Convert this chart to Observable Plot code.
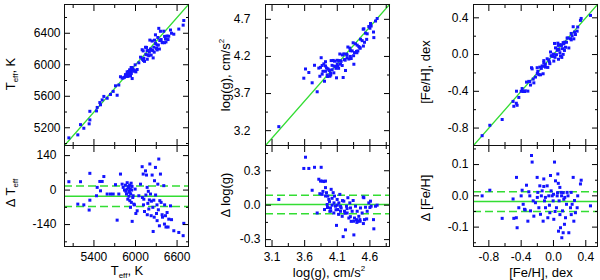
<!DOCTYPE html>
<html><head><meta charset="utf-8">
<script src="https://cdn.jsdelivr.net/npm/d3@7"></script>
<script src="https://cdn.jsdelivr.net/npm/@observablehq/plot@0.6"></script>
<style>
body{margin:0;background:#fff;}
#chart{position:relative;width:600px;height:280px;font-family:"Liberation Sans",Arial,Helvetica,sans-serif;overflow:hidden;background:#fff;}
#chart svg{position:absolute;overflow:visible;}
.lab{position:absolute;font-size:13px;white-space:nowrap;color:#000;line-height:1;}
.lab sub{font-size:8px;vertical-align:-3px;}
.rot{transform:translate(-50%,-50%) rotate(-90deg);}
.hor{transform:translate(-50%,-50%);}
</style></head><body><div id="chart"></div>
<script>
// ---------- data ----------
const teffX = [5038,5206,5167,5254,5341,5331,5341,5447,5437,5485,5519,5543,5495,5591,5639,5678,5711,5735,5759,5783,5807,5822,5841,5855,5870,5880,5889,5899,5908,5918,5928,5937,5952,5966,5976,5995,6024,6048,6072,6096,6111,6120,6130,6144,6159,6168,6178,6192,6207,6216,6226,6240,6255,6264,6274,6288,6303,6312,6322,6336,6351,6360,6384,6408,6418,6433,6456,6480,6505,6553,6625,6688,6697,
  5900,5910,5915,5925,5930,5945,5950,5960,5905,5880,5860,5940,5985,6005,6100,6115,6150,6170,6185,6200,6230,6250,6270,6290,6310,6330,6345,6370,6390,6420,6440,6470,6520];
const teffDelta = [34,34,-57,-60,68,-81,-41,11,-23,35,35,55,-3,-16,-16,-16,22,-122,-16,65,24,11,0,20,-16,4,-37,14,-9,-43,-70,28,-127,-23,-57,4,-84,-23,24,95,65,-37,-87,78,61,11,-54,-77,106,-16,-104,61,-168,-41,38,92,-95,-124,24,126,-43,65,-100,18,-138,-104,-91,-118,-64,-165,-172,-185,-135,
  10,-5,20,5,-15,0,15,-30,-25,30,-5,-50,-60,-95,-30,-60,-20,-100,-5,-40,-45,-70,-110,-20,-60,-80,-145,-50,-110,-60,-150,-150,-120];
const teffStats = {mean:-25, lo:17, hi:-67};

const loggX = [3.204,3.613,3.587,3.664,3.751,3.853,3.715,3.792,3.817,3.843,3.868,3.894,3.919,3.833,3.868,3.904,3.919,3.935,3.945,3.955,3.97,3.986,3.996,4.006,4.021,4.037,4.047,4.057,4.073,4.088,4.098,4.108,4.124,4.139,4.149,4.159,4.175,4.19,4.2,4.211,4.226,4.241,4.251,4.262,4.277,4.292,4.302,4.313,4.328,4.343,4.354,4.364,4.379,4.394,4.405,4.415,4.43,4.446,4.456,4.481,4.497,4.507,4.517,4.532,4.558,4.583,4.609,4.619,4.655,4.66,4.686,4.711,
  3.95,3.98,4.0,4.02,4.05,4.08,4.1,4.12,4.15,4.18,4.22,4.25,4.3,4.35,4.4,4.45,4.5,4.55,4.6,3.88,3.92];
const loggDelta = [0.05,0.418,0.32,0.32,0.33,0.33,0.13,-0.068,0.226,0.21,0.21,0.206,0.21,0.10,0.094,-0.038,0.153,0.109,0.006,0.079,0.05,-0.053,-0.024,0.138,0,0.109,-0.068,0.079,-0.009,-0.176,0.05,-0.038,0.02,0.094,-0.053,-0.024,-0.097,-0.274,0.035,-0.053,-0.215,-0.009,-0.068,0.065,-0.112,0.02,-0.024,-0.141,-0.053,0.041,-0.259,-0.112,-0.009,-0.126,-0.053,-0.141,-0.097,-0.126,-0.024,-0.068,0.071,0.065,-0.126,-0.018,-0.053,0.02,0.035,-0.009,-0.126,-0.206,-0.009,0,
  -0.02,0.03,-0.05,0.06,0.02,-0.04,0.0,-0.08,-0.01,0.04,-0.07,-0.03,-0.1,-0.14,-0.15,-0.14,-0.16,-0.12,-0.02,0.12,0.08];
const loggStats = {mean:0.005, lo:0.087, hi:-0.075};

const fehX = [-0.883,-0.788,-0.635,-0.491,-0.458,-0.45,-0.429,-0.40,-0.388,-0.375,-0.359,-0.334,-0.317,-0.305,-0.293,-0.284,-0.272,-0.264,-0.251,-0.243,-0.223,-0.202,-0.194,-0.181,-0.169,-0.161,-0.14,-0.128,-0.12,-0.111,-0.099,-0.078,-0.07,-0.058,-0.045,-0.037,-0.029,-0.016,-0.004,0.004,0.013,0.025,0.037,0.046,0.054,0.062,0.07,0.079,0.087,0.095,0.103,0.112,0.12,0.128,0.136,0.149,0.161,0.169,0.19,0.211,0.219,0.231,0.244,0.252,0.272,0.293,0.334,0.343,0.458,
  -0.1,-0.05,0.0,0.02,0.05,0.08,0.1,0.14,0.18,0.22,0.26,0.3,-0.2,-0.15,-0.35,-0.46,-0.5,-0.12,0.06,0.12];
const fehDelta = [0,0.018,-0.072,-0.072,0.059,-0.102,-0.038,0,0.018,-0.027,-0.043,0.034,-0.081,0.013,0,-0.048,0.129,0.108,-0.016,-0.065,-0.022,0.059,0.011,-0.038,0.032,-0.059,0.016,-0.081,0.054,-0.016,-0.038,0.032,-0.07,0,-0.054,0.065,0.016,0,-0.016,-0.075,0.108,0.048,-0.038,0,0.07,-0.113,-0.016,0.027,-0.102,0.011,-0.134,-0.048,-0.118,-0.011,-0.091,-0.07,-0.027,0.011,-0.118,-0.038,0.011,-0.027,0.059,-0.081,-0.054,-0.038,0.038,0.05,-0.032,
  -0.005,-0.03,0.005,-0.05,0.01,-0.06,0.0,-0.005,0.0,-0.06,-0.015,0.0,-0.005,0.0,-0.045,-0.07,-0.01,0.03,0.04,0.01];
const fehStats = {mean:-0.018, lo:0.013, hi:-0.05};

// axis ranges and ticks
const teffRange = [4975, 6765], teffDRange = [-229, 181];
const teffXMajor = [5400,6000,6600], teffXMinor = [5100,5700,6300];
const teffYMajor = [5200,5600,6000,6400], teffYMinor = [5000,5400,5800,6200,6600];
const teffDMajor = [-140,0,140], teffDMinor = [-210,-70,70];

const loggRange = [3.0, 4.9], loggDRange = [-0.36, 0.52];
const loggXMajor = [3.1,3.6,4.1,4.6], loggXMinor = [3.35,3.85,4.35,4.85];
const loggYMajor = [3.2,3.7,4.2,4.7], loggYMinor = [3.45,3.95,4.45];
const loggDMajor = [-0.3,0,0.3], loggDMinor = [-0.15,0.15,0.45];

const fehRange = [-0.99, 0.545], fehDRange = [-0.162, 0.161];
const fehXMajor = [-0.8,-0.4,0,0.4], fehXMinor = [-0.6,-0.2,0.2];
const fehYMajor = [-0.8,-0.4,0,0.4], fehYMinor = [-0.6,-0.2,0.2];
const fehDMajor = [-0.1,0,0.1], fehDMinor = [-0.15,-0.05,0.05,0.15];

// ---------- drawing ----------
const FONT = '"Liberation Sans", Arial, Helvetica, sans-serif';
const BLUE = "#1414ff", GREEN = "#33dd33";
const chart = document.getElementById("chart");
const fmtInt = d => String(d);
const fmt1 = d => d.toFixed(1);

function panel(o) {
  const pw = 124, ph = o.ph;
  const mL = 60, mR = 4, mT = o.mT, mB = o.mB;
  const marks = [
    ...o.lines,
    Plot.dot(o.data, {x: "x", y: "y", symbol: "square", r: 1.7, fill: BLUE, stroke: null}),
    Plot.axisX(o.xMajor, {anchor: "bottom", tickSize: -6, tickFormat: () => "", label: null}),
    Plot.axisX(o.xMinor, {anchor: "bottom", tickSize: -3, tickFormat: () => "", label: null}),
    Plot.axisX(o.xMajor, {anchor: "top", tickSize: -6, tickFormat: () => "", label: null}),
    Plot.axisX(o.xMinor, {anchor: "top", tickSize: -3, tickFormat: () => "", label: null}),
    Plot.axisY(o.yMajor, {anchor: "left", tickSize: -6, tickFormat: () => "", label: null}),
    Plot.axisY(o.yMinor, {anchor: "left", tickSize: -3, tickFormat: () => "", label: null}),
    Plot.axisY(o.yMajor, {anchor: "right", tickSize: -6, tickFormat: () => "", label: null}),
    Plot.axisY(o.yMinor, {anchor: "right", tickSize: -3, tickFormat: () => "", label: null}),
    Plot.axisY(o.yMajor, {anchor: "left", tickSize: 0, tickPadding: o.yPad, tickFormat: o.yFmt, label: null, fontSize: 12}),
    Plot.frame({stroke: "#111", strokeWidth: 1})
  ];
  if (o.xLabels) marks.push(Plot.axisX(o.xMajor, {anchor: "bottom", tickSize: 0, tickPadding: 6, tickFormat: o.xFmt, label: null, fontSize: 12}));
  const svg = Plot.plot({
    width: mL + pw + mR, height: mT + ph + mB,
    marginLeft: mL, marginRight: mR, marginTop: mT, marginBottom: mB,
    x: {domain: o.xDomain, axis: null},
    y: {domain: o.yDomain, axis: null},
    style: {fontFamily: FONT, fontSize: "12px", background: "transparent", overflow: "visible", color: "#000"},
    marks
  });
  svg.style.left = (o.left - mL) + "px";
  svg.style.top = (o.top - mT) + "px";
  chart.appendChild(svg);
}

function label(html, x, y, rotate) {
  const d = document.createElement("div");
  d.className = "lab " + (rotate ? "rot" : "hor");
  d.innerHTML = html;
  d.style.left = x + "px";
  d.style.top = y + "px";
  chart.appendChild(d);
}

function build(left, xs, ds, range, dRange, stats, ticks, fmtX, fmtY, fmtD, padTop, padBot) {
  const top = xs.map((x, i) => ({x, y: x + ds[i]}));
  const bot = xs.map((x, i) => ({x, y: ds[i]}));
  panel({
    left, top: 4, ph: 141, mT: 4, mB: 0,
    xDomain: range, yDomain: range, data: top,
    xMajor: ticks.xMaj, xMinor: ticks.xMin, yMajor: ticks.yMaj, yMinor: ticks.yMin,
    yFmt: fmtY, yPad: padTop, xLabels: false,
    lines: [Plot.line(range, {x: d => d, y: d => d, stroke: GREEN, strokeWidth: 1.2})]
  });
  panel({
    left, top: 145, ph: 101, mT: 0, mB: 34,
    xDomain: range, yDomain: dRange, data: bot,
    xMajor: ticks.xMaj, xMinor: ticks.xMin, yMajor: ticks.dMaj, yMinor: ticks.dMin,
    yFmt: fmtD, yPad: padBot, xLabels: true, xFmt: fmtX,
    lines: [
      Plot.ruleY([stats.mean], {stroke: GREEN, strokeWidth: 1.5}),
      Plot.ruleY([stats.lo, stats.hi], {stroke: GREEN, strokeWidth: 1.5, strokeDasharray: "8,4"})
    ]
  });
}

build(64, teffX, teffDelta, teffRange, teffDRange, teffStats,
  {xMaj: teffXMajor, xMin: teffXMinor, yMaj: teffYMajor, yMin: teffYMinor, dMaj: teffDMajor, dMin: teffDMinor},
  fmtInt, fmtInt, fmtInt, 4, 8);
build(265, loggX, loggDelta, loggRange, loggDRange, loggStats,
  {xMaj: loggXMajor, xMin: loggXMinor, yMaj: loggYMajor, yMin: loggYMinor, dMaj: loggDMajor, dMin: loggDMinor},
  fmt1, fmt1, fmt1, 15, 5);
build(473, fehX, fehDelta, fehRange, fehDRange, fehStats,
  {xMaj: fehXMajor, xMin: fehXMinor, yMaj: fehYMajor, yMin: fehYMinor, dMaj: fehDMajor, dMin: fehDMinor},
  fmt1, fmt1, fmt1, 5, 5);

// axis titles
label("T<sub>eff</sub>, K", 12, 74, true);
label("&Delta; T<sub>eff</sub>", 12, 193, true);
label("T<sub>eff</sub>, K", 127, 272, false);
label("log(g), cm/s<sup style='font-size:8px'>2</sup>", 225, 75, true);
label("&Delta; log(g)", 225, 195, true);
label("log(g), cm/s<sup style='font-size:8px'>2</sup>", 329, 272, false);
label("[Fe/H], dex", 425, 72, true);
label("&Delta; [Fe/H]", 425, 198, true);
label("[Fe/H], dex", 541, 272, false);
</script></body></html>
